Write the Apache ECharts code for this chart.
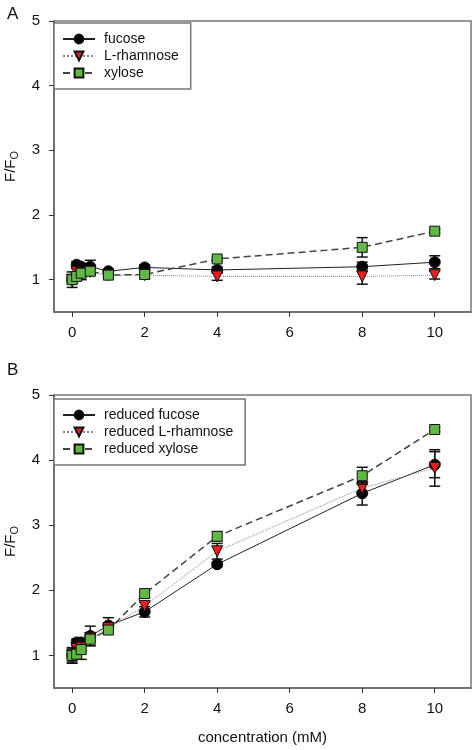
<!DOCTYPE html>
<html><head><meta charset="utf-8">
<script src="https://cdn.jsdelivr.net/npm/echarts@6/dist/echarts.min.js"></script>
<style>html,body{margin:0;padding:0;background:#fff}#c{width:476px;height:750px}</style>
</head><body><div id="c"></div>
<script>
const conc = [0, 0.125, 0.25, 0.5, 1, 2, 4, 8, 10];
const xTicks = [0, 2, 4, 6, 8, 10];
const yTicks = [1, 2, 3, 4, 5];

const namesA = ['fucose', 'L-rhamnose', 'xylose'];
const fucoseA = [1.0, 1.23, 1.2, 1.2, 1.13, 1.19, 1.15, 1.2, 1.27];
const fucoseAErr = [0.05, 0.05, 0.05, 0.1, 0.03, 0.04, 0.05, 0.07, 0.1];
const rhamA = [1.0, 1.12, 1.1, 1.12, 1.07, 1.07, 1.05, 1.05, 1.07];
const rhamAErr = [0.05, 0.05, 0.05, 0.05, 0.03, 0.05, 0.06, 0.12, 0.06];
const xyloseA = [1.0, 1.05, 1.1, 1.13, 1.07, 1.08, 1.32, 1.5, 1.75];
const xyloseAErr = [0.12, 0.05, 0.1, 0.05, 0.03, 0.06, 0.03, 0.15, 0.03];

const namesB = ['reduced fucose', 'reduced L-rhamnose', 'reduced xylose'];
const fucoseB = [1.0, 1.2, 1.2, 1.3, 1.46, 1.67, 2.4, 3.49, 3.93];
const fucoseBErr = [0.1, 0.05, 0.05, 0.15, 0.12, 0.08, 0.04, 0.18, 0.2];
const rhamB = [1.0, 1.1, 1.12, 1.27, 1.42, 1.76, 2.6, 3.57, 3.88];
const rhamBErr = [0.05, 0.05, 0.05, 0.05, 0.05, 0.06, 0.12, 0.06, 0.28];
const xyloseB = [1.0, 1.02, 1.09, 1.25, 1.39, 1.95, 2.83, 3.76, 4.47];
const xyloseBErr = [0.12, 0.06, 0.15, 0.1, 0.06, 0.05, 0.07, 0.13, 0.03];

const FONT = 'Liberation Sans';
const chart = echarts.init(document.getElementById('c'), null, {renderer: 'canvas'});

function xAxis(gi, showName) {
  return {
    type: 'value', gridIndex: gi, min: -0.5, max: 11,
    name: showName ? 'concentration (mM)' : '', nameLocation: 'middle', nameGap: 42,
    nameTextStyle: {fontFamily: FONT, fontSize: 15, color: '#111'},
    axisLine: {onZero: false, lineStyle: {color: '#666', width: 1.5}},
    axisTick: {show: true, customValues: xTicks, length: 5, lineStyle: {color: '#333'}},
    axisLabel: {customValues: xTicks, fontFamily: FONT, fontSize: 15, color: '#111', margin: 13},
    splitLine: {show: false}
  };
}
function yAxis(gi) {
  return {
    type: 'value', gridIndex: gi, min: 0.5, max: 5,
    name: '{a|F/F}{b|O}', nameLocation: 'middle', nameGap: 33, nameRotate: 90,
    nameTextStyle: {rich: {
      a: {fontFamily: FONT, fontSize: 15, color: '#111', lineHeight: 20, verticalAlign: 'middle'},
      b: {fontFamily: FONT, fontSize: 11, color: '#111', lineHeight: 20, verticalAlign: 'bottom', padding: [5, 0, 0, 0]}
    }},
    axisLine: {onZero: false, lineStyle: {color: '#666', width: 1.5}},
    axisTick: {show: true, customValues: yTicks, length: 5, lineStyle: {color: '#333'}},
    axisLabel: {customValues: yTicks, fontFamily: FONT, fontSize: 15, color: '#111', margin: 14},
    splitLine: {show: false}
  };
}

const styles = [
  {symbol: 'circle', size: 11, color: '#000', line: {color: '#222', width: 1, type: 'solid'}},
  {symbol: 'triangle', size: 11, color: '#ee1c1c', line: {color: '#888', width: 1, type: 'dotted'}, rotate: 180},
  {symbol: 'rect', size: 10, color: '#62b845', line: {color: '#444', width: 1.5, type: [7, 4]}}
];

function lineSeries(name, ys, idx, si) {
  const s = styles[si];
  return {
    type: 'line', name: name, xAxisIndex: idx, yAxisIndex: idx,
    data: conc.map((x, i) => [x, ys[i]]),
    symbol: s.symbol, symbolSize: s.size, symbolRotate: s.rotate || 0,
    itemStyle: {color: s.color, borderColor: '#111', borderWidth: 1, opacity: 1},
    lineStyle: s.line, z: 3 + si, showAllSymbol: true, animation: false,
    emphasis: {disabled: true}
  };
}
function errSeries(ys, errs, idx, si) {
  return {
    type: 'custom', xAxisIndex: idx, yAxisIndex: idx, z: 3 + si, animation: false, silent: true,
    data: conc.map((x, i) => [x, ys[i] - errs[i], ys[i] + errs[i]]),
    renderItem: function (params, api) {
      const lo = api.coord([api.value(0), api.value(1)]);
      const hi = api.coord([api.value(0), api.value(2)]);
      const w = 5.5;
      const st = {stroke: '#111', lineWidth: 1.5};
      return {type: 'group', children: [
        {type: 'line', shape: {x1: lo[0], y1: lo[1], x2: hi[0], y2: hi[1]}, style: st},
        {type: 'line', shape: {x1: lo[0] - w, y1: lo[1], x2: lo[0] + w, y2: lo[1]}, style: st},
        {type: 'line', shape: {x1: hi[0] - w, y1: hi[1], x2: hi[0] + w, y2: hi[1]}, style: st}
      ]};
    }
  };
}

function legend(names, top) {
  return {
    data: names, orient: 'vertical', left: 54, top: top,
    backgroundColor: '#fff', borderColor: '#777', borderWidth: 1.5, borderRadius: 0,
    padding: [9, 12, 9, 8], itemWidth: 32, itemHeight: 11, itemGap: 3,
    textStyle: {fontFamily: FONT, fontSize: 14, color: '#111', padding: [0, 0, 0, 4]},
    selectedMode: false
  };
}

const gridCommon = {show: true, borderColor: '#777', borderWidth: 1.5, backgroundColor: 'transparent',
  containLabel: false, outerBoundsMode: 'none'};

const option = {
  backgroundColor: '#fff',
  animation: false,
  title: [
    {text: 'A', left: 2, top: 1, textStyle: {fontFamily: FONT, fontSize: 17, fontWeight: 'normal', color: '#111'}},
    {text: 'B', left: 2, top: 357, textStyle: {fontFamily: FONT, fontSize: 17, fontWeight: 'normal', color: '#111'}}
  ],
  grid: [
    Object.assign({left: 54, top: 21, width: 417, height: 291}, gridCommon),
    Object.assign({left: 54, top: 395, width: 417, height: 293}, gridCommon)
  ],
  legend: [legend(namesA, 23), legend(namesB, 399)],
  xAxis: [xAxis(0, false), xAxis(1, true)],
  yAxis: [yAxis(0), yAxis(1)],
  series: [
    errSeries(fucoseA, fucoseAErr, 0, 0), lineSeries(namesA[0], fucoseA, 0, 0),
    errSeries(rhamA, rhamAErr, 0, 1), lineSeries(namesA[1], rhamA, 0, 1),
    errSeries(xyloseA, xyloseAErr, 0, 2), lineSeries(namesA[2], xyloseA, 0, 2),
    errSeries(fucoseB, fucoseBErr, 1, 0), lineSeries(namesB[0], fucoseB, 1, 0),
    errSeries(rhamB, rhamBErr, 1, 1), lineSeries(namesB[1], rhamB, 1, 1),
    errSeries(xyloseB, xyloseBErr, 1, 2), lineSeries(namesB[2], xyloseB, 1, 2)
  ]
};
chart.setOption(option);
</script></body></html>
